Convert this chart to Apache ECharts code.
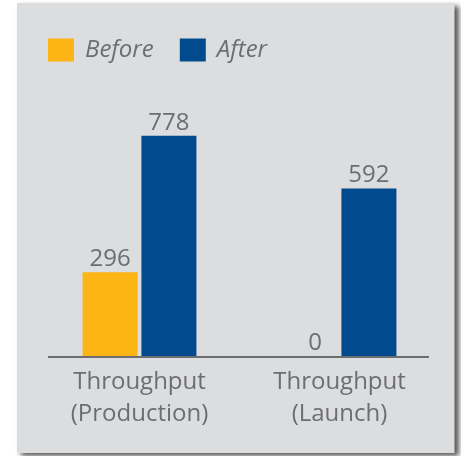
<!DOCTYPE html>
<html>
<head>
<meta charset="utf-8">
<style>
html,body{margin:0;padding:0;background:#ffffff;}
#chart{width:461px;height:456px;}
</style>
<script src="https://cdn.jsdelivr.net/npm/echarts@6/dist/echarts.min.js"></script>
</head>
<body>
<div id="chart"></div>
<script>
var categories = ['Throughput\n(Production)', 'Throughput\n(Launch)'];
var seriesNames = ['Before', 'After'];
var beforeValues = [296, 0];
var afterValues = [778, 592];

var textColor = '#6d6e71';
var fontFamily = '"Open Sans", "Noto Sans", sans-serif';

var chart = echarts.init(document.getElementById('chart'), null, {renderer: 'canvas'});

function labelCfg() {
  return {
    show: true,
    position: 'top',
    distance: 1,
    color: textColor,
    fontFamily: fontFamily,
    fontSize: 24
  };
}

var option = {
  animation: false,
  backgroundColor: '#ffffff',
  graphic: [
    {
      type: 'rect',
      z: -10,
      silent: true,
      shape: {x: 17, y: 3, width: 437.5, height: 450},
      style: {
        fill: '#dcdddf',
        shadowBlur: 5,
        shadowOffsetX: 4,
        shadowOffsetY: 3,
        shadowColor: 'rgba(0,0,0,0.65)'
      }
    },
    {
      type: 'line',
      silent: true,
      z: 10,
      shape: {x1: 48, y1: 357, x2: 429, y2: 357},
      style: {stroke: textColor, lineWidth: 2}
    }
  ],
  legend: {
    data: seriesNames,
    left: 43,
    top: 33,
    itemWidth: 26,
    itemHeight: 23,
    itemGap: 26,
    icon: 'rect',
    textStyle: {
      color: textColor,
      fontFamily: fontFamily,
      fontSize: 24,
      fontStyle: 'italic',
      padding: [0, 0, 0, 6]
    }
  },
  grid: {
    left: 39.5,
    width: 400,
    top: 73,
    bottom: 100,
    containLabel: false
  },
  xAxis: {
    type: 'category',
    data: categories,
    axisLine: {show: false},
    axisTick: {show: false},
    axisLabel: {
      color: textColor,
      fontFamily: fontFamily,
      fontSize: 24,
      lineHeight: 32,
      margin: 10,
      interval: 0
    }
  },
  yAxis: {
    type: 'value',
    min: 0,
    max: 1000,
    show: false,
    splitLine: {show: false}
  },
  series: [
    {
      name: seriesNames[0],
      type: 'bar',
      barWidth: 55,
      barGap: '7%',
      itemStyle: {color: '#fdb515'},
      label: labelCfg(),
      data: beforeValues.map(function (v) {
        return v === 0 ? {value: v, label: {offset: [5, 0]}} : v;
      })
    },
    {
      name: seriesNames[1],
      type: 'bar',
      barWidth: 55,
      itemStyle: {color: '#004a8d'},
      label: labelCfg(),
      data: afterValues
    }
  ]
};
chart.setOption(option);
</script>
</body>
</html>
